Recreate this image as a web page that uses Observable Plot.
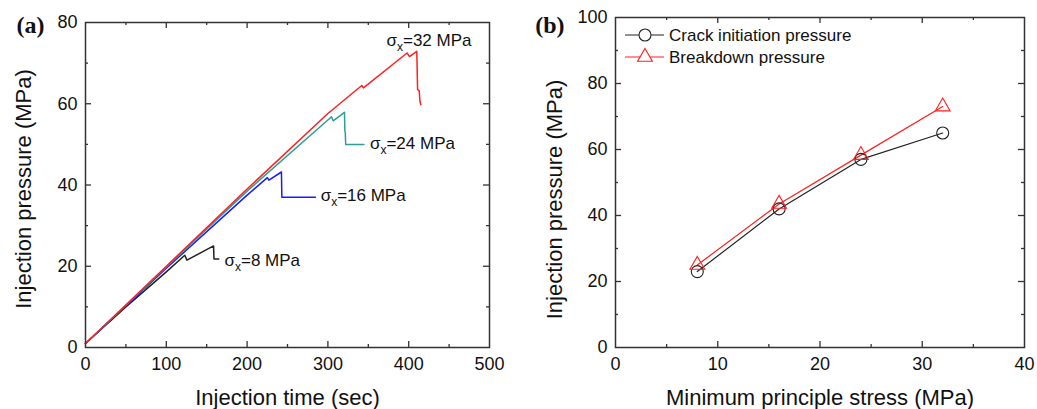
<!DOCTYPE html>
<html><head><meta charset="utf-8">
<script src="https://cdn.jsdelivr.net/npm/d3@7"></script>
<script src="https://cdn.jsdelivr.net/npm/@observablehq/plot@0.6"></script>
<style>
body{margin:0;background:#fff;font-family:"Liberation Sans",Arial,sans-serif;}
#wrap{position:relative;width:1037px;height:409px;overflow:hidden;}
#a{position:absolute;left:0;top:0;}
#b{position:absolute;left:520px;top:0;}
#legend{position:absolute;left:0;top:0;width:1037px;height:409px;pointer-events:none;}
</style></head><body>
<div id="wrap"><div id="a"></div><div id="b"></div><svg id="legend" width="1037" height="409"></svg></div>
<script>
// ---------- Panel (a) data: injection time (sec) vs injection pressure (MPa)
const time8  = [0, 50, 100, 122.9, 125.5, 158.5, 159, 165];
const pres8  = [1, 10, 18.6, 22.7, 21.5, 25, 21.8, 21.8];
const time16 = [0, 100, 200, 225, 227, 242.5, 243, 284.5];
const pres16 = [1, 19.5, 37.5, 41.8, 41.2, 43.2, 37, 37];
const time24 = [0, 100, 200, 304.5, 306.5, 320.5, 321, 321.5, 322, 344.5];
const pres24 = [1, 19.8, 38.5, 56.8, 55.8, 57.9, 53.3, 53, 50, 50];
const time32 = [0, 100, 200, 300, 342, 344, 398, 401, 410, 411, 413, 414, 415];
const pres32 = [1, 20, 39, 57.6, 64.5, 63.9, 72.5, 71.6, 72.9, 63.5, 63.2, 60.5, 59.8];
const seriesNames = ["8 MPa", "16 MPa", "24 MPa", "32 MPa"];
const seriesColors = ["#222222", "#1a1aff", "#2e9c98", "#ff2020"];
const labelText = ["=8 MPa", "=16 MPa", "=24 MPa", "=32 MPa"];
const labelX = [172, 291, 352, 372.5];
const labelY = [21.4, 37.4, 50.3, 75.6];
const xTicksA = [0, 100, 200, 300, 400, 500];
const xMinorA = [50, 150, 250, 350, 450];
const yTicksA = [0, 20, 40, 60, 80];
const yMinorA = [10, 30, 50, 70];

// ---------- Panel (b) data
const stress = [8, 16, 24, 32];
const crackInit = [23, 42, 57, 65];
const breakdown = [25, 43.5, 58.3, 73];
const legendNames = ["Crack initiation pressure", "Breakdown pressure"];
const xTicksB = [0, 10, 20, 30, 40];
const xMinorB = [5, 15, 25, 35];
const yTicksB = [0, 20, 40, 60, 80, 100];
const yMinorB = [10, 30, 50, 70, 90];

const FONT = "Liberation Sans, Arial, sans-serif";

// inward ticks on all four sides, drawn as inset rules; labels via axis marks
function frameAxes(xMaj, xMin, yMaj, yMin, fw, fh) {
  const st = {stroke: "#333", strokeWidth: 1.3};
  const inner = (v) => v.slice(1, -1);
  return [
    Plot.ruleX(inner(xMaj), {x: d => d, ...st, insetTop: fh - 6}),
    Plot.ruleX(inner(xMaj), {x: d => d, ...st, insetBottom: fh - 6}),
    Plot.ruleX(xMin, {x: d => d, ...st, insetTop: fh - 3}),
    Plot.ruleX(xMin, {x: d => d, ...st, insetBottom: fh - 3}),
    Plot.ruleY(inner(yMaj), {y: d => d, ...st, insetRight: fw - 6}),
    Plot.ruleY(inner(yMaj), {y: d => d, ...st, insetLeft: fw - 6}),
    Plot.ruleY(yMin, {y: d => d, ...st, insetRight: fw - 3}),
    Plot.ruleY(yMin, {y: d => d, ...st, insetLeft: fw - 3}),
    Plot.axisX(xMaj, {anchor: "bottom", tickSize: 0, tickPadding: 10, fontSize: 18, fill: "#111", label: null}),
    Plot.axisY(yMaj, {anchor: "left", tickSize: 0, tickPadding: 8, fontSize: 18, fill: "#111", label: null}),
    Plot.frame({stroke: "#333", strokeWidth: 1.5})
  ];
}

// ---------- Panel (a)
const times = [time8, time16, time24, time32];
const press = [pres8, pres16, pres24, pres32];
const rowsA = [];
seriesNames.forEach((n, i) => times[i].forEach((t, j) => rowsA.push({s: n, t, p: press[i][j]})));
const labelsA = labelText.map((t, i) => ({t: "σx" + t, x: labelX[i], y: labelY[i]}));

const mA = {l: 85, r: 31, t: 22, b: 62, w: 520, h: 409};
const plotA = Plot.plot({
  width: mA.w, height: mA.h,
  marginLeft: mA.l, marginRight: mA.r, marginTop: mA.t, marginBottom: mA.b,
  style: {fontFamily: FONT, background: "#fff", color: "#111"},
  x: {domain: [0, 500]},
  y: {domain: [0, 80]},
  marks: [
    ...seriesNames.map((n, i) => Plot.line(rowsA.filter(d => d.s === n), {x: "t", y: "p", stroke: seriesColors[i], strokeWidth: 1.5})),
    Plot.text(labelsA, {x: "x", y: "y", text: "t", textAnchor: "start", fontSize: 17, fill: "#111"}),
    ...frameAxes(xTicksA, xMinorA, yTicksA, yMinorA, mA.w - mA.l - mA.r, mA.h - mA.t - mA.b),
    Plot.text(["Injection time (sec)"], {frameAnchor: "bottom", dy: 50, fontSize: 22, fill: "#111", textAnchor: "middle", lineAnchor: "middle"}),
    Plot.text(["Injection pressure (MPa)"], {frameAnchor: "left", dx: -62, dy: 4, rotate: -90, fontSize: 22, fill: "#111", textAnchor: "middle", lineAnchor: "middle"}),
    Plot.text(["(a)"], {frameAnchor: "top-left", dx: -41, dy: 3, textAnchor: "end", lineAnchor: "middle", fontSize: 24, fontWeight: "bold", fontFamily: "Liberation Serif, Times New Roman, serif", fill: "#111"})
  ]
});
document.getElementById("a").appendChild(plotA);

// subscript x for sigma labels
d3.select(plotA).selectAll("text").filter(function() { return this.textContent.startsWith("σx="); }).each(function() {
  const rest = this.textContent.slice(2);
  const sel = d3.select(this);
  sel.text(null);
  sel.append("tspan").text("σ");
  sel.append("tspan").attr("dy", 5).attr("font-size", 12).text("x");
  sel.append("tspan").attr("dy", -5).text(rest);
});

// ---------- Panel (b)
const crackRows = stress.map((s, i) => ({s, v: crackInit[i]}));
const breakRows = stress.map((s, i) => ({s, v: breakdown[i]}));

const mB = {l: 95, r: 13, t: 17, b: 62, w: 517, h: 409};
const plotB = Plot.plot({
  width: mB.w, height: mB.h,
  marginLeft: mB.l, marginRight: mB.r, marginTop: mB.t, marginBottom: mB.b,
  style: {fontFamily: FONT, background: "#fff", color: "#111"},
  x: {domain: [0, 40]},
  y: {domain: [0, 100]},
  marks: [
    Plot.line(crackRows, {x: "s", y: "v", stroke: "#222", strokeWidth: 1.2}),
    Plot.line(breakRows, {x: "s", y: "v", stroke: "#ff2020", strokeWidth: 1.2}),
    Plot.dot(crackRows, {x: "s", y: "v", r: 6, stroke: "#222", fill: "none", strokeWidth: 1.1}),
    Plot.dot(breakRows, {x: "s", y: "v", r: 5.5, symbol: "triangle", stroke: "#ff2020", fill: "none", strokeWidth: 1.1}),
    ...frameAxes(xTicksB, xMinorB, yTicksB, yMinorB, mB.w - mB.l - mB.r, mB.h - mB.t - mB.b),
    Plot.text(["Minimum principle stress (MPa)"], {frameAnchor: "bottom", dy: 50, fontSize: 22, fill: "#111", textAnchor: "middle", lineAnchor: "middle"}),
    Plot.text(["Injection pressure (MPa)"], {frameAnchor: "left", dx: -61, dy: 17, rotate: -90, fontSize: 22, fill: "#111", textAnchor: "middle", lineAnchor: "middle"}),
    Plot.text(["(b)"], {frameAnchor: "top-left", dx: -51, dy: 8, textAnchor: "end", lineAnchor: "middle", fontSize: 24, fontWeight: "bold", fontFamily: "Liberation Serif, Times New Roman, serif", fill: "#111"})
  ]
});
document.getElementById("b").appendChild(plotB);

// ---------- Legend overlay for (b)
const leg = d3.select("#legend");
const legColors = ["#222", "#ff2020"];
const legSymbols = [d3.symbolCircle, d3.symbolTriangle];
const legSizes = [Math.PI * 36, Math.PI * 30.25];
legendNames.forEach((name, i) => {
  const y = 35 + i * 22;
  const g = leg.append("g");
  g.append("line").attr("x1", 625).attr("x2", 664).attr("y1", y).attr("y2", y).attr("stroke", legColors[i]).attr("stroke-width", 1.2);
  g.append("path").attr("d", d3.symbol(legSymbols[i], legSizes[i])()).attr("transform", `translate(645,${y})`)
    .attr("fill", "#fff").attr("stroke", legColors[i]).attr("stroke-width", 1.1);
  g.append("text").attr("x", 669).attr("y", y).attr("dy", "0.35em").attr("font-size", 17)
    .attr("font-family", FONT).attr("fill", "#111").text(name);
});
</script>
</body></html>
